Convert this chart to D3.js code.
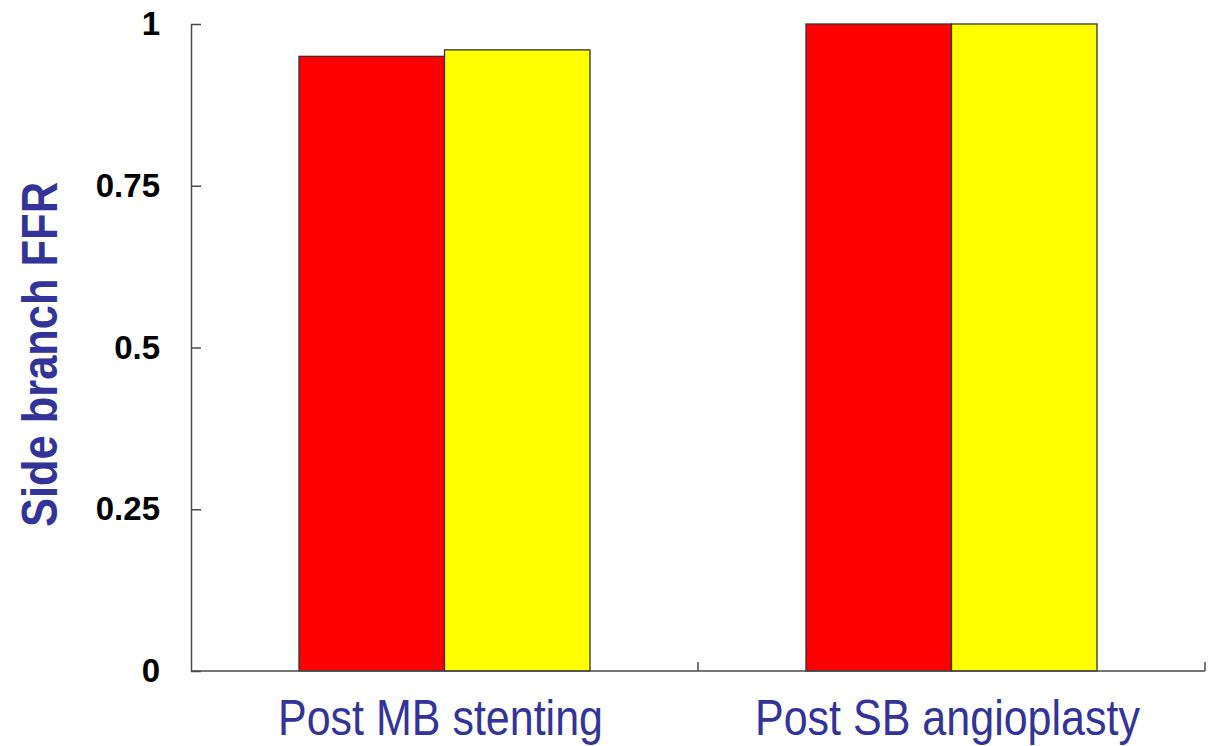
<!DOCTYPE html>
<html>
<head>
<meta charset="utf-8">
<script src="https://cdn.jsdelivr.net/npm/d3@7"></script>
<style>
  html, body { margin: 0; padding: 0; background: #fff; }
  svg { display: block; }
</style>
</head>
<body>
<svg id="chart" width="1215" height="746"></svg>
<script>
// Side branch FFR after each step of the procedure
const categories = ["Post MB stenting", "Post SB angioplasty"];
const seriesNames = ["A", "B"];
const seriesA = [0.95, 1.0];
const seriesB = [0.96, 1.0];
const yTicks = [0, 0.25, 0.5, 0.75, 1];
const yTickLabels = ["0", "0.25", "0.5", "0.75", "1"];
const colors = ["#ff0000", "#ffff00"];

const rows = categories.map((c, i) => ({
  category: c,
  values: [
    { key: seriesNames[0], value: seriesA[i] },
    { key: seriesNames[1], value: seriesB[i] }
  ]
}));

const svg = d3.select("#chart");
const plotLeft = 191, plotRight = 1205, plotTop = 24, plotBottom = 671;
const axisColor = "#4a4a4a";
const titleBlue = "#333399";

const x = d3.scaleBand().domain(categories).range([plotLeft, plotRight]).padding(0);
const bw = x.bandwidth();
const xs = d3.scaleBand().domain(seriesNames).range([bw * 0.213, bw * 0.787]).padding(0);
const color = d3.scaleOrdinal().domain(seriesNames).range(colors);
const y = d3.scaleLinear().domain([0, 1]).range([plotBottom, plotTop]);

// bars
const groups = svg.append("g").selectAll("g")
  .data(rows).join("g")
  .attr("transform", d => `translate(${x(d.category)},0)`);

groups.selectAll("rect")
  .data(d => d.values).join("rect")
  .attr("x", d => xs(d.key))
  .attr("y", d => y(d.value))
  .attr("width", xs.bandwidth())
  .attr("height", d => y(0) - y(d.value))
  .attr("fill", d => color(d.key))
  .attr("stroke", "#333")
  .attr("stroke-width", 1.3);

// y axis with inward ticks
const yAxis = d3.axisLeft(y)
  .tickValues(yTicks)
  .tickFormat((d, i) => yTickLabels[i])
  .tickSize(-10)
  .tickSizeOuter(0)
  .tickPadding(31);

const ya = svg.append("g").attr("transform", `translate(${plotLeft},0)`).call(yAxis);
ya.select(".domain").attr("stroke", axisColor).attr("stroke-width", 1.5);
ya.selectAll(".tick line").attr("stroke", axisColor).attr("stroke-width", 1.5);
ya.selectAll(".tick text")
  .attr("fill", "#000")
  .attr("font-family", "Liberation Sans, Arial, sans-serif")
  .attr("font-weight", "bold")
  .attr("font-size", 33);

// x axis with category boundary ticks pointing up
const xa = svg.append("g");
xa.append("line")
  .attr("x1", plotLeft).attr("x2", plotRight)
  .attr("y1", plotBottom).attr("y2", plotBottom)
  .attr("stroke", axisColor).attr("stroke-width", 1.5);
const boundaries = categories.slice(1).map(c => x(c)).concat([x(categories[categories.length - 1]) + x.step()]);
xa.selectAll("line.tick")
  .data(boundaries).join("line")
  .attr("class", "tick")
  .attr("x1", d => d).attr("x2", d => d)
  .attr("y1", plotBottom).attr("y2", plotBottom - 9)
  .attr("stroke", axisColor).attr("stroke-width", 1.5);

// category labels
const catWidths = [325, 385];
xa.selectAll("text")
  .data(categories).join("text")
  .attr("x", d => x(d) + bw / 2 - 4)
  .attr("y", 735)
  .attr("text-anchor", "middle")
  .attr("fill", titleBlue)
  .attr("font-family", "Liberation Sans, Arial, sans-serif")
  .attr("font-size", 50)
  .attr("textLength", (d, i) => catWidths[i])
  .attr("lengthAdjust", "spacingAndGlyphs")
  .text(d => d);

// y axis title
svg.append("text")
  .attr("transform", `translate(57,${(182 + 527) / 2}) rotate(-90)`)
  .attr("text-anchor", "middle")
  .attr("fill", titleBlue)
  .attr("font-family", "Liberation Sans, Arial, sans-serif")
  .attr("font-weight", "bold")
  .attr("font-size", 50)
  .attr("textLength", 345)
  .attr("lengthAdjust", "spacingAndGlyphs")
  .text("Side branch FFR");
</script>
</body>
</html>
